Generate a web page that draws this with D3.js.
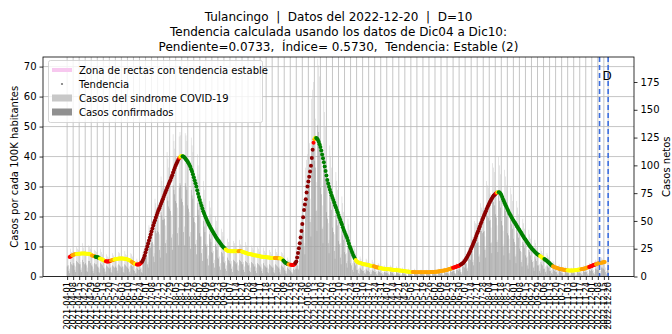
<!DOCTYPE html>
<html><head><meta charset="utf-8">
<script src="https://cdn.jsdelivr.net/npm/d3@7"></script>
<style>body{margin:0;background:#fff;} text{font-family:"DejaVu Sans",sans-serif;fill:#000;white-space:pre;}</style>
</head><body><svg id="c" width="672" height="334"></svg>
<script>
const titleLines = [
  "Tulancingo  |  Datos del 2022-12-20  |  D=10",
  "Tendencia calculada usando los datos de Dic04 a Dic10:",
  "Pendiente=0.0733,  Índice= 0.5730,  Tendencia: Estable (2)"
];
const barStartDate = "2021-04-01";
const trendStartDate = "2021-04-04";
const trendValues = [
6.5,6.7,6.9,7.1,7.2,7.3,7.4,7.4,7.5,7.5,
7.6,7.6,7.6,7.7,7.7,7.7,7.7,7.7,7.7,7.6,
7.6,7.6,7.5,7.5,7.4,7.2,7.0,6.9,6.8,6.7,
6.6,6.5,6.4,6.4,6.2,6.0,5.9,5.8,5.6,5.5,
5.3,5.2,5.1,5.0,5.0,5.0,5.1,5.2,5.3,5.4,
5.5,5.6,5.7,5.8,5.8,5.9,5.9,6.0,6.0,6.0,
6.0,6.0,6.0,5.9,5.9,5.8,5.8,5.7,5.6,5.5,
5.3,5.1,4.9,4.7,4.5,4.3,4.2,4.1,4.0,4.0,
4.0,4.1,4.3,4.6,
4.9,5.5,6.2,7.0,8.0,9.0,10.0,11.0,12.0,13.0,
14.0,15.0,16.0,17.0,17.9,18.8,19.7,20.5,21.3,22.1,
22.8,23.5,24.3,25.0,25.8,26.5,27.3,28.0,28.8,29.5,
30.2,30.9,31.6,32.2,33.0,33.8,34.7,35.5,36.3,37.0,
37.7,38.3,38.9,39.4,39.8,40.1,40.2,
40.1,40.0,39.8,39.4,39.0,38.7,38.3,37.8,37.2,36.6,
35.8,35.0,34.1,33.1,32.1,31.1,30.0,28.8,27.6,26.5,
25.5,24.5,23.6,22.7,21.8,21.0,20.3,19.6,18.9,18.3,
17.7,17.1,16.5,16.0,15.5,15.0,14.5,14.0,13.5,13.0,
12.6,12.2,11.8,11.4,11.0,10.6,10.2,9.9,9.6,9.3,
9.0,8.8,
8.6,8.5,8.5,8.4,8.4,8.4,8.4,8.4,8.4,8.4,
8.4,8.4,8.4,8.4,8.5,8.5,8.4,8.3,8.2,8.1,
8.0,7.9,7.8,7.7,7.6,7.5,7.5,7.4,7.3,7.3,
7.2,7.1,7.1,7.0,7.0,6.9,6.9,6.8,6.7,6.7,
6.6,6.6,6.5,6.5,6.5,6.4,6.4,6.3,6.3,6.3,
6.2,6.2,6.2,6.2,6.2,6.2,6.2,6.2,6.1,6.1,
6.1,6.1,6.0,5.8,5.6,5.3,5.0,4.7,4.5,4.3,
4.2,4.1,4.0,3.9,3.9,3.8,3.8,3.9,4.1,
4.5,5.0,6.3,7.8,9.4,11.1,13.0,15.2,17.5,19.8,
22.2,24.0,25.8,28.0,30.0,31.7,33.3,35.0,36.9,39.5,
42.3,44.6,45.8,46.3,46.2,46.0,
45.6,44.9,44.1,43.2,42.0,40.7,39.4,38.1,36.7,35.2,
33.7,32.2,31.0,29.9,28.9,28.0,27.1,26.3,25.5,24.7,
23.8,23.0,22.2,21.4,20.5,19.7,18.9,18.1,17.3,16.4,
15.6,14.9,14.2,13.5,12.8,11.9,11.0,10.1,9.4,8.6,
7.9,7.2,6.6,6.0,5.5,5.1,
4.8,4.7,4.6,4.5,4.4,4.3,4.2,4.1,4.1,4.0,
4.0,3.9,3.8,3.8,3.7,3.6,3.6,3.5,3.4,3.4,
3.3,3.2,3.1,3.0,3.0,2.9,2.8,2.8,2.7,2.7,
2.6,2.6,2.5,2.5,2.5,2.4,2.4,2.4,2.3,2.3,
2.3,2.2,2.2,2.2,2.2,2.1,2.1,2.1,2.0,2.0,
2.0,1.9,1.9,1.8,1.8,1.8,1.7,1.7,1.7,1.6,
1.6,1.6,1.5,1.5,1.5,1.5,1.4,1.4,1.4,1.4,
1.4,1.4,1.4,1.4,1.4,1.4,1.4,1.4,1.4,1.4,
1.4,1.4,1.4,1.4,1.4,1.5,1.5,1.5,1.5,1.5,
1.6,1.6,1.6,1.7,1.7,1.7,1.8,1.8,1.9,1.9,
2.0,2.0,2.1,2.1,2.2,2.3,2.4,2.5,2.6,2.7,
2.8,2.9,3.0,3.1,3.2,3.3,3.4,3.5,3.6,
3.8,4.0,4.2,4.4,4.6,5.0,5.4,5.8,6.3,6.8,
7.4,8.0,8.6,9.3,10.0,10.7,11.4,12.1,12.8,13.6,
14.4,15.1,15.9,16.7,17.5,18.2,19.0,19.7,20.4,21.1,
21.8,22.5,23.2,23.8,24.4,25.0,25.5,26.0,26.5,26.9,
27.2,27.5,27.8,28.0,28.1,
28.1,28.0,27.7,27.2,26.5,25.8,25.1,24.4,23.8,23.2,
22.5,21.9,21.3,20.8,20.3,19.7,19.2,18.7,18.2,17.8,
17.3,16.8,16.4,15.9,15.5,15.0,14.6,14.1,13.6,13.2,
12.7,12.3,11.8,11.4,11.0,10.6,10.2,9.8,9.5,9.1,
8.8,8.5,8.2,7.9,7.6,7.4,7.2,7.0,6.8,6.6,
6.4,6.2,6.0,5.8,5.6,5.4,5.2,4.9,4.7,4.4,
4.1,3.8,3.6,3.4,3.2,3.1,3.0,2.9,2.8,2.7,
2.6,2.5,2.4,2.4,2.3,2.3,2.2,2.2,2.1,2.1,
2.1,2.0,2.0,2.0,2.0,2.0,2.0,2.0,2.1,2.1,
2.1,2.2,2.2,2.3,2.3,2.4,2.4,2.5,2.6,2.6,
2.7,2.8,2.9,3.0,3.1,3.2,3.3,3.4,3.5,3.7,
3.8,3.9,4.0,4.1,4.2,4.3,4.4,4.5,4.6,4.6,
4.7,4.7,4.8,4.8
];
// R = subida fuerte, r = subida, o = subida leve, y = estable, g = bajada
const trendColorRuns = [
["r",3],["o",5],["y",18],["o",4],["g",5],["y",7],["r",6],["o",4],["y",20],["o",4],["y",2],["r",6],
["R",43],["r",1],["o",1],["y",2],
["g",50],
["y",15],["o",4],["y",38],["o",6],["y",4],["g",6],["o",3],["r",5],
["R",21],["r",1],["o",1],["y",1],
["g",46],
["y",21],["o",7],["y",38],["o",47],["r",9],["R",41],["r",1],["o",1],["y",1],
["g",48],["y",5],["g",10],["o",17],["y",16],["o",9],["r",8],["o",11]
];
const trendColors = {R:"#8b0000", r:"#ff0000", o:"#ffa500", y:"#ffff00", g:"#008000"};
const sindromeCases = [
19,18,10,7,25,22,21, 23,20,12,9,27,25,24, 22,21,13,8,30,26,23, 24,20,11,8,28,27,25,
20,19,11,7,24,23,22, 18,17,9,7,25,22,20, 16,14,8,5,20,18,17, 15,16,9,6,21,19,16,
18,17,10,6,22,21,18, 17,18,9,7,23,20,19, 16,15,9,5,21,20,18, 12,11,7,4,16,14,13,
12,14,8,6,22,24,27, 30,32,18,13,46,44,43, 48,50,29,21,70,66,62, 64,62,38,27,90,86,80,
79,80,46,33,112,106,98, 95,92,55,38,128,122,115, 108,104,62,44,126,130,127, 110,106,64,45,129,127,122,
104,98,58,40,125,118,112, 88,82,48,33,110,100,92, 68,62,36,25,86,78,70, 52,49,29,19,68,62,56,
41,39,23,15,54,50,44, 33,31,18,12,43,40,36, 27,25,14,10,34,31,28, 25,24,14,9,32,30,27,
24,25,13,10,33,29,28, 24,23,13,9,31,28,26, 22,21,12,8,28,26,24, 21,20,11,8,27,25,22,
20,19,11,7,26,23,21, 19,18,10,7,24,22,20, 18,18,10,6,25,22,20, 18,17,9,6,22,21,19,
14,12,7,5,17,15,14, 11,10,6,4,14,13,14, 14,18,12,10,38,48,55, 62,68,40,30,98,105,110,
115,120,70,52,160,168,175, 150,142,85,60,196,190,180, 118,110,64,45,160,148,135, 90,82,48,33,118,108,98,
72,66,38,27,94,86,78, 55,50,30,20,72,66,58, 40,36,21,14,52,47,42, 24,21,12,8,28,25,21,
14,13,7,5,18,16,14, 12,12,6,4,16,15,13, 11,10,6,4,15,13,12, 9,9,5,3,12,11,9,
8,7,4,3,10,9,8, 7,7,4,2,10,9,7, 7,6,3,2,9,8,7, 6,5,3,2,8,7,5,
5,5,2,1,7,6,5, 5,4,2,1,7,6,5, 4,5,2,2,6,6,5, 4,4,2,1,6,5,4,
5,4,2,1,6,5,5, 5,5,3,2,7,6,5, 6,6,3,2,8,7,6, 7,7,4,3,10,9,8,
9,9,5,3,12,11,10, 12,11,7,4,16,15,14, 18,19,11,8,26,25,24, 34,36,20,15,50,48,47,
46,48,28,20,66,62,60, 60,62,36,26,86,82,80, 74,75,44,31,102,98,94, 82,78,46,33,108,100,92,
76,70,41,29,96,90,82, 62,58,34,24,80,74,68, 54,49,29,20,68,62,56, 41,38,22,15,52,48,43,
33,30,18,12,42,38,34, 27,24,14,9,33,30,26, 20,19,11,7,26,23,21, 16,15,9,5,21,19,17,
11,10,6,4,14,13,11, 8,8,5,3,11,10,8, 7,6,3,2,9,8,7, 6,6,3,2,8,7,6,
6,6,3,2,8,8,7, 7,7,4,3,10,9,8, 9,9,5,3,12,11,10, 12,11,6,4,15,14,12,
13,12,7,5,17,16,14, 14,13,8,5,16,10
];
const confirmedCases = [
9,10,5,3,13,11,10, 12,10,6,4,14,13,12, 11,11,6,4,15,13,11, 12,10,5,4,14,14,12,
10,9,5,3,12,11,11, 9,8,4,3,12,11,10, 8,7,4,2,10,9,8, 7,8,4,3,10,9,8,
9,8,5,3,11,10,9, 8,9,4,3,11,10,9, 8,7,4,2,10,10,9, 6,5,3,2,8,7,6,
6,7,4,3,12,14,16, 18,19,11,8,28,27,26, 30,31,18,13,44,41,39, 41,40,24,17,58,55,51,
51,52,30,21,72,68,63, 61,59,35,24,82,78,74, 68,66,39,28,80,84,82, 70,67,40,28,84,81,78,
64,61,36,25,78,73,70, 53,49,29,20,66,60,55, 39,36,21,14,50,45,40, 29,27,16,10,38,34,31,
22,21,12,8,29,27,24, 17,16,9,6,22,21,18, 13,12,7,5,17,15,14, 12,11,7,4,15,14,13,
11,12,6,5,15,14,13, 11,11,6,4,14,13,12, 10,10,5,4,13,12,11, 9,9,5,3,12,11,10,
9,8,5,3,12,10,9, 8,8,4,3,11,10,9, 8,8,4,3,11,10,9, 8,7,4,2,10,9,8,
6,5,3,2,8,7,6, 5,4,3,2,7,6,7, 7,10,7,6,24,31,36, 42,46,27,20,66,71,75,
80,84,49,36,112,118,122, 104,98,59,41,136,130,124, 80,74,43,30,106,98,88, 58,52,30,21,74,67,60,
44,40,23,16,56,51,46, 32,29,17,11,41,37,33, 22,20,12,8,28,25,22, 12,10,6,4,14,12,10,
6,6,3,2,8,7,6, 5,5,3,2,7,6,5, 5,4,2,2,6,5,5, 4,4,2,1,5,4,4,
3,3,2,1,4,4,3, 3,3,2,1,4,4,3, 3,2,1,1,4,3,3, 2,2,1,1,3,3,2,
2,2,1,0,3,2,2, 2,2,1,0,3,2,2, 2,2,1,1,3,3,2, 2,2,1,0,3,2,2,
2,2,1,0,3,2,2, 2,2,1,1,3,3,2, 3,3,1,1,4,3,3, 3,3,2,1,5,4,4,
5,5,3,2,6,6,5, 7,6,4,2,9,9,8, 11,12,7,5,17,16,15, 22,23,13,10,33,31,30,
30,31,18,13,44,41,39, 40,41,24,17,57,54,53, 50,51,30,21,70,67,64, 56,53,31,22,73,68,62,
50,46,27,19,63,59,54, 39,37,21,15,51,47,43, 34,31,18,12,43,39,35, 25,23,13,9,31,29,26,
19,17,10,7,24,22,19, 15,13,8,5,18,16,14, 10,10,5,3,13,11,10, 7,7,4,2,10,9,8,
5,5,3,2,7,6,5, 4,4,2,1,5,5,4, 3,3,1,1,4,4,3, 3,3,1,1,4,3,3,
3,3,1,1,4,4,3, 3,3,2,1,5,4,4, 4,4,2,1,6,5,5, 6,5,3,2,7,7,6,
6,6,3,2,8,8,7, 7,6,4,2,7,4
];
const stableZone = [
  {date:"2022-12-04", lo:3.2, hi:5.0},
  {date:"2022-12-07", lo:3.4, hi:5.3},
  {date:"2022-12-10", lo:3.6, hi:5.6}
];
const leftTicks = [0,10,20,30,40,50,60,70];
const rightTicks = [0,25,50,75,100,125,150,175];
const firstTickDate = "2021-04-01";
const lastWeeklyTickDate = "2022-12-15";
const extraTickDate = "2022-12-20";
const dashedDates = ["2022-12-10","2022-12-20"];
const xDomain = ["2021-03-04","2023-01-19"];
const leftMax = 73.2, rightMax = 197.5;
const legendItems = ["Zona de rectas con tendencia estable","Tendencia","Casos del sindrome COVID-19","Casos confirmados"];

const parse = d3.utcParse("%Y-%m-%d");
const fmt = d3.utcFormat("%Y-%m-%d");
const svg = d3.select("#c");
const L = 43, R = 634, T = 57, B = 276.5;

const x = d3.scaleUtc().domain(xDomain.map(parse)).range([L, R]);
const yL = d3.scaleLinear().domain([0, leftMax]).range([B, T]);
const yR = d3.scaleLinear().domain([0, rightMax]).range([B, T]);

const tickDates = d3.utcDay.range(parse(firstTickDate), d3.utcDay.offset(parse(lastWeeklyTickDate), 1), 7);
tickDates.push(parse(extraTickDate));

// grid
const g = svg.append("g");
g.selectAll(".vg").data(tickDates).join("line")
  .attr("x1", d => x(d)).attr("x2", d => x(d)).attr("y1", T).attr("y2", B)
  .attr("stroke", "#b8b8b8").attr("stroke-width", 0.8);
g.selectAll(".hg").data(leftTicks).join("line")
  .attr("x1", L).attr("x2", R).attr("y1", d => yL(d)).attr("y2", d => yL(d))
  .attr("stroke", "#b8b8b8").attr("stroke-width", 0.8);

// bars
const b0 = parse(barStartDate);
const bw = 0.45;
svg.append("g").selectAll("rect").data(sindromeCases).join("rect")
  .attr("x", (d, i) => x(d3.utcDay.offset(b0, i)) - bw / 2)
  .attr("width", bw)
  .attr("y", d => yR(d)).attr("height", d => B - yR(d))
  .attr("fill", "#c8c8c8");
svg.append("g").selectAll("rect").data(confirmedCases).join("rect")
  .attr("x", (d, i) => x(d3.utcDay.offset(b0, i)) - bw / 2)
  .attr("width", bw)
  .attr("y", d => yR(d)).attr("height", d => B - yR(d))
  .attr("fill", "#909090");

// stable zone
svg.append("path").datum(stableZone)
  .attr("d", d3.area().x(d => x(parse(d.date))).y0(d => yL(d.lo)).y1(d => yL(d.hi)))
  .attr("fill", "#f7c8ef").attr("opacity", 0.6);

// trend
const codes = [];
trendColorRuns.forEach(([c, n]) => { for (let k = 0; k < n; k++) codes.push(c); });
const t0 = parse(trendStartDate);
const pts = trendValues.map((v, i) => ({ d: d3.utcDay.offset(t0, i), v, c: codes[i] || "o" }));
svg.append("g").selectAll("circle").data(pts).join("circle")
  .attr("cx", d => x(d.d)).attr("cy", d => yL(d.v)).attr("r", 2)
  .attr("fill", d => trendColors[d.c]);

// dashed lines
svg.append("g").selectAll("line").data(dashedDates).join("line")
  .attr("x1", d => x(parse(d))).attr("x2", d => x(parse(d))).attr("y1", T).attr("y2", B)
  .attr("stroke", "#3d6fe0").attr("stroke-width", 1.6).attr("stroke-dasharray", "5,3");
svg.append("text").attr("x", x(parse(dashedDates[0])) + 3).attr("y", 80)
  .attr("font-size", 12).text("D");

// frame
svg.append("rect").attr("x", L).attr("y", T).attr("width", R - L).attr("height", B - T)
  .attr("fill", "none").attr("stroke", "#000").attr("stroke-width", 0.8);

// axes
const axL = svg.append("g").attr("transform", `translate(${L},0)`)
  .call(d3.axisLeft(yL).tickValues(leftTicks).tickSize(3.5).tickPadding(3));
const axR = svg.append("g").attr("transform", `translate(${R},0)`)
  .call(d3.axisRight(yR).tickValues(rightTicks).tickSize(3.5).tickPadding(3));
const axB = svg.append("g").attr("transform", `translate(0,${B})`)
  .call(d3.axisBottom(x).tickValues(tickDates).tickFormat(fmt).tickSize(3.5).tickPadding(2));
[axL, axR, axB].forEach(a => { a.select(".domain").remove(); a.selectAll("line").attr("stroke", "#000").attr("stroke-width", 0.8); });
axL.selectAll("text").attr("font-size", 10).attr("font-family", "DejaVu Sans");
axR.selectAll("text").attr("font-size", 10).attr("font-family", "DejaVu Sans");
axB.selectAll("text").attr("font-size", 8.2).attr("font-family", "DejaVu Sans")
  .attr("text-anchor", "end").attr("dy", "0.32em")
  .attr("transform", "translate(0,5.5) rotate(-90)")
  .attr("x", 0).attr("y", 0);

// axis labels
svg.append("text").attr("transform", `translate(18,${(T + B) / 2}) rotate(-90)`)
  .attr("text-anchor", "middle").attr("font-size", 10).text("Casos por cada 100K habitantes");
svg.append("text").attr("transform", `translate(670,${(T + B) / 2}) rotate(-90)`)
  .attr("text-anchor", "middle").attr("font-size", 10).text("Casos netos");

// title
svg.append("g").selectAll("text").data(titleLines).join("text")
  .attr("x", (L + R) / 2).attr("y", (d, i) => 21 + i * 15)
  .attr("text-anchor", "middle").attr("font-size", 12).text(d => d);

// legend
const lg = svg.append("g");
lg.append("rect").attr("x", 48.5).attr("y", 60.5).attr("width", 214).attr("height", 62).attr("rx", 2)
  .attr("fill", "#fff").attr("fill-opacity", 0.8).attr("stroke", "#ccc").attr("stroke-width", 0.8);
const ly = [70, 84, 98, 112];
lg.append("line").attr("x1", 52).attr("x2", 72).attr("y1", ly[0]).attr("y2", ly[0])
  .attr("stroke", "#f7c8ef").attr("stroke-width", 4);
lg.append("circle").attr("cx", 62).attr("cy", ly[1]).attr("r", 1.1).attr("fill", "#777");
lg.append("rect").attr("x", 52).attr("y", ly[2] - 3.5).attr("width", 20).attr("height", 7).attr("fill", "#c8c8c8");
lg.append("rect").attr("x", 52).attr("y", ly[3] - 3.5).attr("width", 20).attr("height", 7).attr("fill", "#909090");
lg.selectAll("text").data(legendItems).join("text")
  .attr("x", 79).attr("y", (d, i) => ly[i]).attr("dy", "0.35em").attr("font-size", 10).text(d => d);
</script></body></html>
